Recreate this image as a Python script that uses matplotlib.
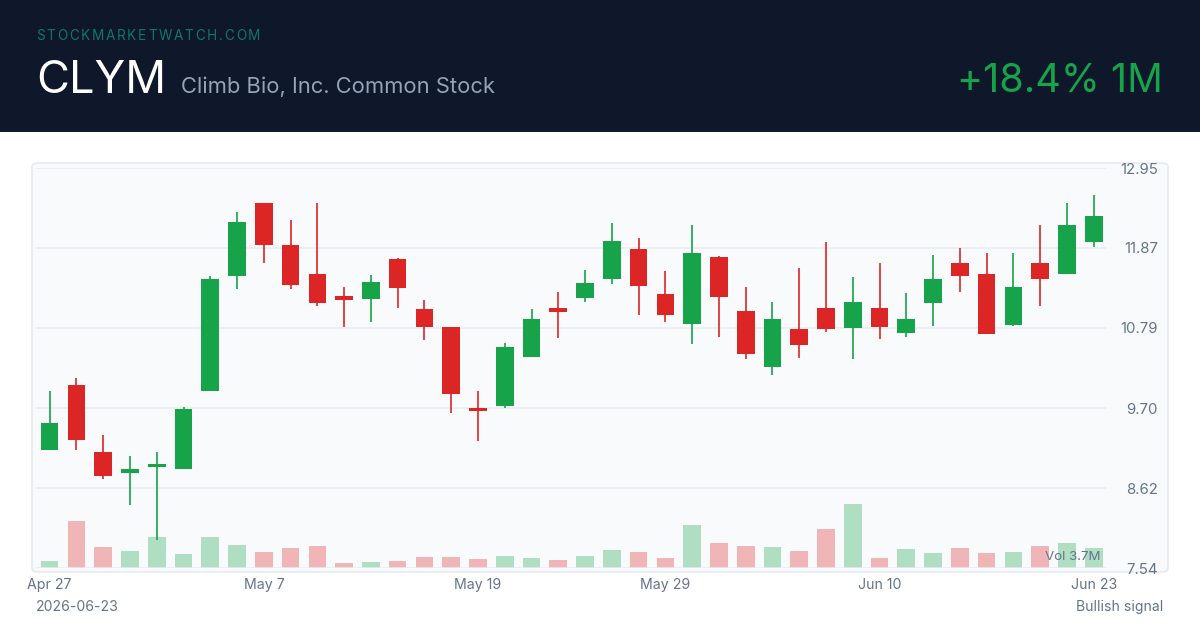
import matplotlib
matplotlib.use("Agg")
import matplotlib.pyplot as plt
from matplotlib.patches import FancyBboxPatch, Rectangle

plt.rcParams['font.family'] = ['Inter', 'DejaVu Sans']

# data
opens  = [9.14, 10.01, 9.11, 8.83, 8.90, 8.88, 9.93, 11.49, 12.48, 11.91,
          11.52, 11.22, 11.18, 11.72, 11.04, 10.80, 9.71, 9.73, 10.40, 11.02,
          11.19, 11.45, 11.85, 11.24, 10.84, 11.75, 11.01, 10.26, 10.77, 11.05,
          10.79, 11.06, 10.72, 11.12, 11.66, 11.51, 10.82, 11.66, 11.52, 11.95]
highs  = [9.93, 10.11, 9.34, 9.06, 9.11, 9.72, 11.49, 12.35, 12.48, 12.24,
          12.48, 11.34, 11.50, 11.73, 11.17, 10.80, 9.93, 10.58, 11.04, 11.27,
          11.57, 12.20, 12.00, 11.56, 12.18, 11.76, 11.34, 11.14, 11.60, 11.95,
          11.48, 11.67, 11.26, 11.77, 11.87, 11.80, 11.80, 12.18, 12.48, 12.59]
lows   = [9.14, 9.13, 8.75, 8.39, 7.92, 8.88, 9.93, 11.32, 11.66, 11.32,
          11.09, 10.80, 10.87, 11.06, 10.63, 9.64, 9.26, 9.71, 10.40, 10.65,
          11.14, 11.38, 10.96, 10.87, 10.57, 10.66, 10.36, 10.15, 10.38, 10.73,
          10.37, 10.64, 10.66, 10.81, 11.27, 10.71, 10.81, 11.09, 11.51, 11.88]
closes = [9.50, 9.27, 8.79, 8.88, 8.92, 9.69, 11.45, 12.22, 11.91, 11.37,
          11.12, 11.17, 11.41, 11.33, 10.80, 9.89, 9.66, 10.53, 10.91, 11.00,
          11.39, 11.96, 11.35, 10.96, 11.80, 11.20, 10.44, 10.91, 10.55, 10.77,
          11.14, 10.80, 10.91, 11.45, 11.49, 10.71, 11.34, 11.45, 12.18, 12.30]
volumes = [1.33, 8.50, 3.82, 3.15, 5.64, 2.55, 5.59, 4.19, 2.91, 3.59,
           3.95, 0.96, 1.15, 1.33, 2.06, 1.95, 1.58, 2.13, 1.87, 1.40,
           2.13, 3.22, 2.91, 1.87, 7.83, 4.50, 4.06, 3.77, 3.04, 7.04,
           11.60, 1.82, 3.51, 2.68, 3.69, 2.68, 2.86, 3.95, 4.50, 3.70]

date_ticks = [0, 8, 16, 23, 31, 39]
date_labels = ['Apr 27', 'May 7', 'May 19', 'May 29', 'Jun 10', 'Jun 23']
price_ticks = [7.54, 8.62, 9.70, 10.79, 11.87, 12.95]
price_labels = ['7.54', '8.62', '9.70', '10.79', '11.87', '12.95']

GREEN = '#16a34a'
RED = '#dc2626'
W, H = 1200, 630

fig = plt.figure(figsize=(12, 6.3), dpi=100)
fig.patch.set_facecolor('white')

def fx(x):
    return x / W

def fy(y):
    return 1 - y / H

# header band
fig.patches.append(Rectangle((0, fy(132)), 1, 132 / H, transform=fig.transFigure,
                             facecolor='#0f172a', edgecolor='none', zorder=-5))
# chart panel
fig.patches.append(FancyBboxPatch((fx(32), fy(572)), (1168 - 32) / W, (572 - 163) / H,
                                  boxstyle='round,pad=0,rounding_size=0.006',
                                  transform=fig.transFigure, facecolor='#f8fafc',
                                  edgecolor='#e6eaf0', linewidth=1.2, zorder=-5))

# letter-spaced site name
renderer = fig.canvas.get_renderer()
x = 36
for ch in 'STOCKMARKETWATCH.COM':
    t = fig.text(fx(x), fy(40), ch, color='#0f766e', fontsize=9.8, va='baseline')
    x += t.get_window_extent(renderer=renderer).width + 1.75

fig.text(fx(36), fy(93), 'CLYM', color='white', fontsize=32.5, va='baseline')
fig.text(fx(181), fy(93), 'Climb Bio, Inc. Common Stock', color='#94a3b8',
         fontsize=15.8, va='baseline')
fig.text(fx(1163), fy(92), '+18.4% 1M', color=GREEN, fontsize=28.5,
         ha='right', va='baseline')

fig.text(fx(36), fy(611), '2026-06-23', color='#64748b', fontsize=10.1, va='baseline')
fig.text(fx(1163), fy(611), 'Bullish signal', color='#64748b', fontsize=10.1,
         ha='right', va='baseline')

ax = fig.add_axes([fx(36), fy(568), (1106 - 36) / W, (568 - 168) / H])
vax = ax.twinx()
vax.set_zorder(1)
ax.set_zorder(2)
ax.patch.set_visible(False)
vax.patch.set_visible(False)

# volume bars
n = len(closes)
idx = list(range(n))
vcolors = [GREEN if closes[i] >= opens[i] else RED for i in idx]
vax.bar(idx, volumes, width=0.66, color=vcolors, alpha=0.32, linewidth=0)
vax.set_ylim(0, max(volumes) * 400 / 63.7)
vax.set_yticks([])
ax.text(0.9953, 0.0125, 'Vol 3.7M', transform=ax.transAxes, ha='right', va='bottom',
        color='#64748b', fontsize=9.6, zorder=5)

# candles
for i in idx:
    c = GREEN if closes[i] >= opens[i] else RED
    ax.vlines(i, lows[i], highs[i], color=c, linewidth=1.2, zorder=3)
    lo = min(opens[i], closes[i])
    h = max(abs(closes[i] - opens[i]), 0.05)
    ax.bar(i, h, bottom=lo, width=0.66, color=c, linewidth=0, zorder=4)

ax.set_xlim(-0.51, n - 0.54)
ax.set_ylim(7.54, 12.95)
for sp in ax.spines.values():
    sp.set_visible(False)
for sp in vax.spines.values():
    sp.set_visible(False)

ax.set_yticks(price_ticks)
ax.set_yticklabels(price_labels)
ax.yaxis.tick_right()
ax.tick_params(axis='y', length=0, pad=37.4, labelsize=10.8, labelcolor='#64748b')
for lab in ax.get_yticklabels():
    lab.set_ha('right')
ax.grid(axis='y', color='#e8ecf2', linewidth=1.1)
ax.set_axisbelow(True)

ax.set_xticks(date_ticks)
ax.set_xticklabels(date_labels)
ax.tick_params(axis='x', length=0, pad=7, labelsize=10.2, labelcolor='#64748b')

fig.savefig('out.png', dpi=100, facecolor=fig.get_facecolor())
